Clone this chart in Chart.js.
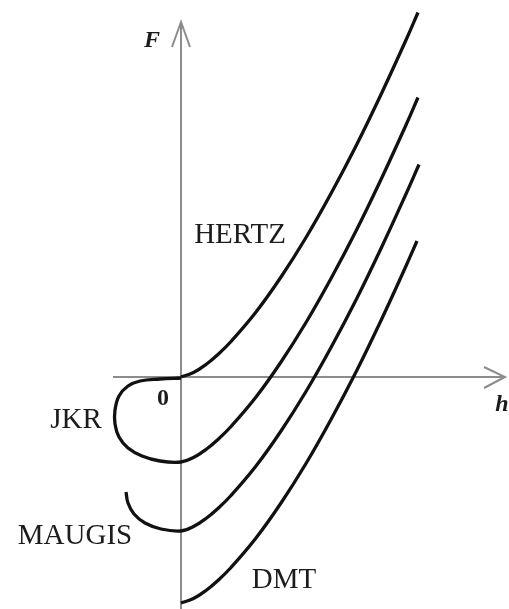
<!DOCTYPE html>
<html>
<head>
<meta charset="utf-8">
<title>F(h)</title>
<script src="https://cdn.jsdelivr.net/npm/chart.js@4/dist/chart.umd.min.js"></script>
<style>
	html, body { margin: 0; padding: 0; background: #fff; }
	#box { width: 509px; height: 609px; }
</style>
</head>
<body>
<div id="box"><canvas id="out"></canvas></div>
<script>
// contact models, penetration h vs force F (arbitrary units)
const hertzH = [0, 0.25, 0.5, 0.75, 1, 1.5, 2, 2.5, 3, 3.5, 4, 4.5, 4.74];
const hertzF = [0, 0.09, 0.25, 0.46, 0.71, 1.3, 2.0, 2.79, 3.67, 4.62, 5.65, 6.74, 7.29];

// JKR: the loop left of the F axis, then the loading branch
const jkrH = [0, -0.42, -0.82, -1.06, -1.24, -1.32, -1.32, -1.24, -1.06, -0.78, -0.42,
	0, 0.25, 0.5, 0.75, 1, 1.5, 2, 2.5, 3, 3.5, 4, 4.5, 4.74];
const jkrF = [-0.02, -0.04, -0.08, -0.18, -0.38, -0.66, -0.94, -1.2, -1.42, -1.58, -1.68,
	-1.7, -1.61, -1.45, -1.24, -0.99, -0.4, 0.3, 1.09, 1.97, 2.92, 3.95, 5.04, 5.59];

const maugisH = [-1.1, -1.06, -0.94, -0.72, -0.4, 0, 0.25, 0.5, 0.75, 1, 1.5, 2, 2.5, 3, 3.5, 4, 4.5, 4.76];
const maugisF = [-2.3, -2.52, -2.74, -2.92, -3.04, -3.08, -2.99, -2.83, -2.62, -2.37, -1.78, -1.08, -0.29, 0.59, 1.54, 2.57, 3.66, 4.25];

const dmtH = [0, 0.25, 0.5, 0.75, 1, 1.5, 2, 2.5, 3, 3.5, 4, 4.5, 4.72];
const dmtF = [-4.52, -4.43, -4.27, -4.06, -3.81, -3.22, -2.52, -1.73, -0.85, 0.1, 1.13, 2.22, 2.72];

// name, position of the text
const curveNames = ["HERTZ", "JKR", "MAUGIS", "DMT"];
const nameH = [1.18, -2.1, -2.12, 2.06];
const nameF = [2.84, -0.86, -3.18, -4.06];

// extent of the drawn axes
const axisH = [-1.36, 6.48];
const axisF = [-4.7, 7.1];

function toPoints(xs, ys) {
	const pts = [];
	for (let i = 0; i < xs.length; i++) {
		pts.push({ x: xs[i], y: ys[i] });
	};
	return pts;
};

function curve(label, xs, ys) {
	return {
		label: label,
		data: toPoints(xs, ys),
		showLine: true,
		borderColor: "#111",
		borderWidth: 3.3,
		pointRadius: 0,
		tension: 0.4,
		fill: false
	};
};

const axesPlugin = {
	id: "arrowAxes",
	beforeDatasetsDraw(chart) {
		const ctx = chart.ctx;
		const sx = chart.scales.x;
		const sy = chart.scales.y;
		const x0 = sx.getPixelForValue(0);
		const y0 = sy.getPixelForValue(0);
		ctx.save();
		ctx.strokeStyle = "#8c8c8c";
		ctx.lineWidth = 2;
		ctx.lineJoin = "miter";
		// h axis
		const hEnd = sx.getPixelForValue(axisH[1]);
		ctx.beginPath();
		ctx.moveTo(sx.getPixelForValue(axisH[0]), y0);
		ctx.lineTo(hEnd, y0);
		ctx.moveTo(hEnd - 21, y0 - 10);
		ctx.lineTo(hEnd, y0);
		ctx.lineTo(hEnd - 21, y0 + 11);
		ctx.stroke();
		// F axis
		const fEnd = sy.getPixelForValue(axisF[1]);
		ctx.beginPath();
		ctx.moveTo(x0, sy.getPixelForValue(axisF[0]));
		ctx.lineTo(x0, fEnd);
		ctx.moveTo(x0 - 9, fEnd + 25);
		ctx.lineTo(x0, fEnd);
		ctx.lineTo(x0 + 9, fEnd + 25);
		ctx.stroke();
		ctx.restore();
	},
	afterDatasetsDraw(chart) {
		const ctx = chart.ctx;
		const sx = chart.scales.x;
		const sy = chart.scales.y;
		ctx.save();
		ctx.fillStyle = "#1c1c1c";
		ctx.textAlign = "center";
		ctx.textBaseline = "middle";
		ctx.font = "29px 'Liberation Serif', serif";
		for (let i = 0; i < curveNames.length; i++) {
			ctx.fillText(curveNames[i], sx.getPixelForValue(nameH[i]), sy.getPixelForValue(nameF[i]));
		};
		ctx.font = "bold italic 24px 'Liberation Serif', serif";
		ctx.fillText("F", sx.getPixelForValue(-0.58), sy.getPixelForValue(6.72));
		ctx.fillText("h", sx.getPixelForValue(6.42), sy.getPixelForValue(-0.56));
		ctx.font = "bold 24px 'Liberation Serif', serif";
		ctx.fillText("0", sx.getPixelForValue(-0.36), sy.getPixelForValue(-0.44));
		ctx.restore();
	}
};

const canvasCtx = document.getElementById("out").getContext("2d");

window.chart = new Chart(canvasCtx, {
	type: "scatter",
	data: {
		datasets: [
			curve("HERTZ", hertzH, hertzF),
			curve("JKR", jkrH, jkrF),
			curve("MAUGIS", maugisH, maugisF),
			curve("DMT", dmtH, dmtF)
		]
	},
	options: {
		responsive: true,
		maintainAspectRatio: false,
		animation: false,
		layout: { padding: 0 },
		plugins: {
			legend: { display: false },
			tooltip: { enabled: false }
		},
		scales: {
			x: { type: "linear", display: false, min: -3.62, max: 6.56 },
			y: { type: "linear", display: false, min: -4.64, max: 7.54 }
		}
	},
	plugins: [axesPlugin]
});
</script>
</body>
</html>
